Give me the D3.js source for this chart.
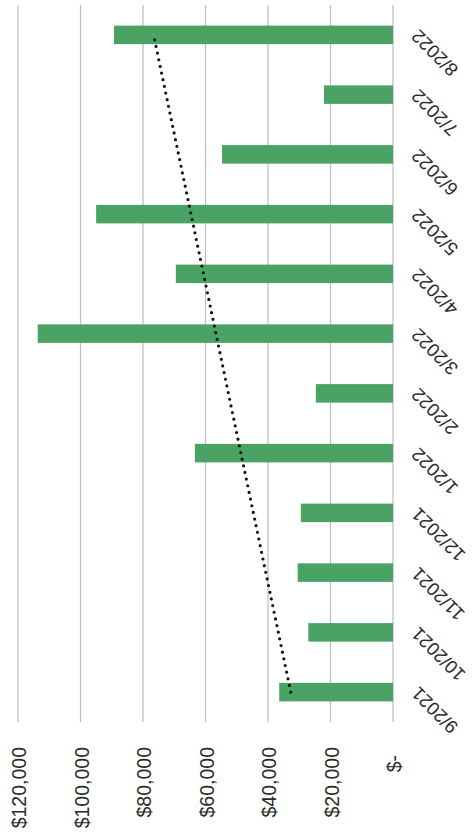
<!DOCTYPE html>
<html>
<head>
<meta charset="utf-8">
<script src="https://cdn.jsdelivr.net/npm/d3@7"></script>
<style>
  html, body { margin: 0; padding: 0; background: #ffffff; }
  svg { display: block; }
</style>
</head>
<body>
<div id="chart"></div>
<script>
// ---- data ----
const categories = ["9/2021", "10/2021", "11/2021", "12/2021", "1/2022", "2/2022",
                    "3/2022", "4/2022", "5/2022", "6/2022", "7/2022", "8/2022"];
const amounts = [36400, 27100, 30500, 29500, 63400, 24700,
                 113700, 69500, 95000, 54700, 22100, 89300];
const valueTicks = [0, 20000, 40000, 60000, 80000, 100000, 120000];
const valueTickLabels = ["$-", "$20,000", "$40,000", "$60,000", "$80,000", "$100,000", "$120,000"];

// ---- layout ----
const W = 472, H = 835;
// The chart is drawn as an ordinary column chart and then turned a quarter
// turn counter-clockwise, as in the scanned reference.
const plotLeft = 113, plotRight = 830, baseY = 393, topY = 18;

const svg = d3.select("#chart").append("svg")
  .attr("width", W).attr("height", H);
svg.append("rect").attr("width", W).attr("height", H).attr("fill", "#ffffff");

const g = svg.append("g").attr("transform", `translate(0,${H}) rotate(-90)`);

const x = d3.scaleBand().domain(categories).range([plotLeft, plotRight])
  .paddingInner(0.69).paddingOuter(0.345);
const y = d3.scaleLinear().domain([0, 120000]).range([baseY, topY]);

// gridlines
g.append("g").selectAll("line").data(valueTicks).join("line")
  .attr("x1", plotLeft).attr("x2", plotRight)
  .attr("y1", d => y(d)).attr("y2", d => y(d))
  .attr("stroke", "#bdbdbd").attr("stroke-width", 1.2);

// value axis labels
const fmt = d => valueTickLabels[valueTicks.indexOf(d)];
g.append("g").selectAll("text").data(valueTicks).join("text")
  .attr("x", d => d === 0 ? 80 : 88)
  .attr("y", d => y(d))
  .attr("dy", "0.42em")
  .attr("text-anchor", "end")
  .attr("font-family", "'Liberation Sans', Arial, sans-serif")
  .attr("font-size", 19.5)
  .attr("fill", "#2a2a2a")
  .text(fmt);

// bars
g.append("g").selectAll("rect").data(categories).join("rect")
  .attr("x", d => x(d))
  .attr("width", x.bandwidth())
  .attr("y", (d, i) => y(amounts[i]))
  .attr("height", (d, i) => y(0) - y(amounts[i]))
  .attr("fill", "#4aa264");

// category labels, placed in page coordinates (page X = chart y, page Y = H - chart x)
svg.append("g").selectAll("text").data(categories).join("text")
  .attr("transform", d => {
    const cx = x(d) + x.bandwidth() / 2;
    return `translate(${baseY + 25},${H - cx - 5}) rotate(-135)`;
  })
  .attr("text-anchor", "end")
  .attr("dy", "0.1em")
  .attr("font-family", "'Liberation Sans', Arial, sans-serif")
  .attr("font-size", 18.5)
  .attr("fill", "#2a2a2a")
  .text(d => d);

// linear trendline (least squares over the monthly values)
const n = amounts.length;
const mx = (n - 1) / 2;
const my = d3.mean(amounts);
let sxy = 0, sxx = 0;
amounts.forEach((v, i) => { sxy += (i - mx) * (v - my); sxx += (i - mx) * (i - mx); });
const slope = sxy / sxx, intercept = my - slope * mx;
const trend = categories.map((c, i) => ({ c, v: intercept + slope * i }));
const line = d3.line()
  .x(d => x(d.c) + x.bandwidth() / 2)
  .y(d => y(d.v));
g.append("path").datum([trend[0], trend[n - 1]])
  .attr("d", line)
  .attr("fill", "none")
  .attr("stroke", "#111")
  .attr("stroke-width", 3.2)
  .attr("stroke-linecap", "round")
  .attr("stroke-dasharray", "0 6.8");
</script>
</body>
</html>
